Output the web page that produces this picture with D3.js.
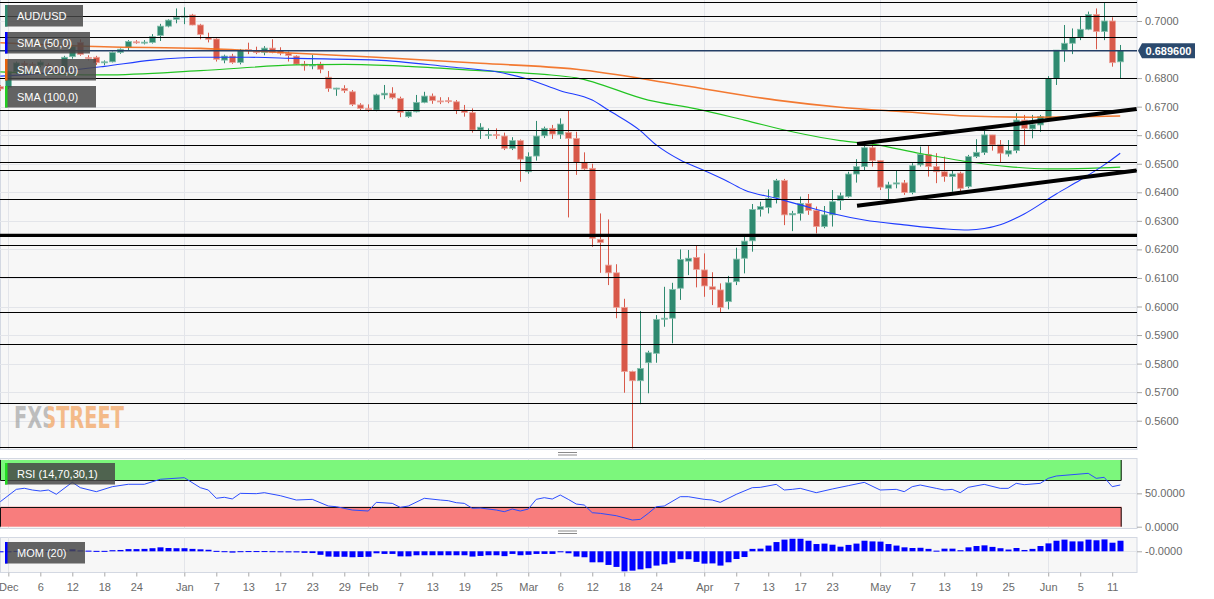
<!DOCTYPE html>
<html>
<head>
<meta charset="utf-8">
<title>AUD/USD daily</title>
<script src="https://cdnjs.cloudflare.com/ajax/libs/d3/7.8.5/d3.min.js"></script>
<style>
  html, body { margin: 0; padding: 0; background: #fff; }
  svg { display: block; font-family: 'Liberation Sans', Arial, sans-serif; }
</style>
</head>
<body>
<div id="chart"></div>
<script>
/* =====================================================
   AUD/USD daily candles, SMAs, RSI and momentum
   ===================================================== */

// Trading days run from 2019-11-29 to 2020-06-12 (weekdays), one value per day
const FIRST_DAY = '2019-11-29';
const LAST_DAY  = '2020-06-12';

const OPEN = [
  0.6770,0.6768,0.6822,0.6852,0.6849,0.6845,0.6846,0.6838,0.6822,0.6875,
  0.6925,0.6872,0.6873,0.6855,0.6857,0.6890,0.6908,0.6927,0.6924,0.6925,
  0.6949,0.6982,0.7006,0.7014,0.7021,0.6986,0.6942,0.6937,0.6863,0.6877,
  0.6855,0.6900,0.6893,0.6890,0.6905,0.6896,0.6887,0.6877,0.6849,0.6843,
  0.6849,0.6803,0.6762,0.6764,0.6752,0.6706,0.6693,0.6688,0.6741,0.6747,
  0.6729,0.6665,0.6682,0.6715,0.6737,0.6720,0.6721,0.6717,0.6688,0.6679,
  0.6618,0.6600,0.6602,0.6597,0.6554,0.6581,0.6472,0.6527,0.6598,0.6624,
  0.6603,0.6610,0.6589,0.6505,0.6484,0.6235,0.6145,0.6118,0.5997,0.5772,
  0.5740,0.5803,0.5836,0.5957,0.5959,0.6064,0.6159,0.6172,0.6128,0.6069,
  0.6058,0.6017,0.6087,0.6169,0.6230,0.6340,0.6347,0.6381,0.6441,0.6321,
  0.6326,0.6361,0.6336,0.6280,0.6321,0.6371,0.6385,0.6464,0.6490,0.6556,
  0.6511,0.6414,0.6429,0.6433,0.6399,0.6496,0.6533,0.6490,0.6472,0.6455,
  0.6467,0.6420,0.6525,0.6539,0.6601,0.6566,0.6534,0.6546,0.6653,0.6622,
  0.6636,0.6659,0.6799,0.6898,0.6922,0.6943,0.6971,0.7023,0.6963,0.7000,
  0.6857
];
const HIGH = [
  0.6775,0.6826,0.6858,0.6860,0.6856,0.6862,0.6852,0.6842,0.6878,0.6915,
  0.6936,0.6880,0.6878,0.6862,0.6893,0.6904,0.6933,0.6933,0.6933,0.6954,
  0.6990,0.7006,0.7044,0.7048,0.7025,0.6990,0.6959,0.6940,0.6882,0.6885,
  0.6902,0.6924,0.6910,0.6912,0.6936,0.6908,0.6893,0.6880,0.6860,0.6881,
  0.6857,0.6825,0.6766,0.6775,0.6758,0.6712,0.6708,0.6745,0.6776,0.6768,
  0.6735,0.6688,0.6741,0.6752,0.6746,0.6733,0.6733,0.6723,0.6706,0.6694,
  0.6642,0.6624,0.6624,0.6609,0.6593,0.6585,0.6540,0.6650,0.6630,0.6636,
  0.6659,0.6688,0.6612,0.6540,0.6500,0.6326,0.6305,0.6148,0.6027,0.5775,
  0.5984,0.5845,0.5970,0.6069,0.6083,0.6200,0.6198,0.6213,0.6186,0.6120,
  0.6081,0.6107,0.6206,0.6247,0.6359,0.6367,0.6410,0.6447,0.6447,0.6335,
  0.6385,0.6394,0.6350,0.6352,0.6408,0.6399,0.6472,0.6516,0.6572,0.6572,
  0.6513,0.6437,0.6476,0.6443,0.6502,0.6560,0.6562,0.6537,0.6525,0.6478,
  0.6472,0.6531,0.6586,0.6618,0.6601,0.6583,0.6583,0.6677,0.6671,0.6671,
  0.6671,0.6807,0.6898,0.6986,0.6974,0.7015,0.7033,0.7044,0.7064,0.7013,
  0.6916
];
const LOW = [
  0.6755,0.6762,0.6815,0.6840,0.6838,0.6838,0.6830,0.6815,0.6815,0.6868,
  0.6878,0.6862,0.6846,0.6845,0.6855,0.6885,0.6898,0.6920,0.6918,0.6921,
  0.6930,0.6978,0.6992,0.6989,0.6985,0.6936,0.6925,0.6858,0.6852,0.6850,
  0.6848,0.6884,0.6884,0.6880,0.6887,0.6880,0.6858,0.6846,0.6826,0.6831,
  0.6817,0.6752,0.6738,0.6748,0.6702,0.6688,0.6682,0.6684,0.6726,0.6726,
  0.6663,0.6661,0.6680,0.6712,0.6710,0.6709,0.6712,0.6674,0.6665,0.6609,
  0.6587,0.6587,0.6587,0.6548,0.6548,0.6437,0.6465,0.6511,0.6590,0.6587,
  0.6587,0.6312,0.6461,0.6476,0.6209,0.6118,0.6075,0.5959,0.5698,0.5503,
  0.5658,0.5696,0.5803,0.5929,0.5871,0.6023,0.6110,0.6067,0.6034,0.6005,
  0.5978,0.5990,0.6075,0.6116,0.6192,0.6315,0.6326,0.6361,0.6285,0.6264,
  0.6301,0.6321,0.6256,0.6274,0.6280,0.6338,0.6381,0.6434,0.6478,0.6490,
  0.6408,0.6375,0.6414,0.6391,0.6393,0.6490,0.6455,0.6432,0.6437,0.6402,
  0.6402,0.6414,0.6520,0.6531,0.6546,0.6505,0.6525,0.6537,0.6566,0.6589,
  0.6612,0.6656,0.6776,0.6857,0.6884,0.6933,0.6968,0.6901,0.6933,0.6840,
  0.6799
];
const CLOSE = [
  0.6762,0.6822,0.6853,0.6846,0.6845,0.6856,0.6838,0.6822,0.6873,0.6910,
  0.6883,0.6870,0.6854,0.6857,0.6890,0.6901,0.6928,0.6924,0.6926,0.6945,
  0.6982,0.7003,0.7013,0.7017,0.6986,0.6953,0.6936,0.6866,0.6877,0.6855,
  0.6898,0.6897,0.6890,0.6905,0.6890,0.6887,0.6879,0.6849,0.6843,0.6846,
  0.6831,0.6764,0.6765,0.6756,0.6708,0.6694,0.6691,0.6741,0.6747,0.6731,
  0.6680,0.6682,0.6715,0.6737,0.6721,0.6718,0.6718,0.6688,0.6680,0.6618,
  0.6628,0.6602,0.6600,0.6554,0.6581,0.6516,0.6525,0.6597,0.6624,0.6604,
  0.6639,0.6589,0.6505,0.6482,0.6239,0.6224,0.6118,0.5997,0.5772,0.5740,
  0.5783,0.5838,0.5955,0.5959,0.6060,0.6165,0.6169,0.6130,0.6072,0.6060,
  0.5997,0.6083,0.6166,0.6229,0.6340,0.6350,0.6379,0.6441,0.6321,0.6326,
  0.6361,0.6336,0.6280,0.6321,0.6367,0.6388,0.6464,0.6490,0.6556,0.6511,
  0.6418,0.6426,0.6433,0.6399,0.6493,0.6533,0.6490,0.6472,0.6455,0.6464,
  0.6414,0.6525,0.6540,0.6601,0.6566,0.6537,0.6546,0.6653,0.6624,0.6638,
  0.6665,0.6799,0.6898,0.6922,0.6942,0.6971,0.7023,0.6963,0.7000,0.6854,
  0.6896
];

// Momentum (20), one bar per day
const MOM = [
  -0.004,-0.002,0.002,0.001,0.001,0.002,0.001,-0.001,0.004,0.009,
  0.004,0.003,0.002,0.002,0.005,0.006,0.010,0.010,0.011,0.014,
  0.018,0.015,0.014,0.014,0.011,0.009,0.007,0.002,0.0005,-0.006,
  0.0005,0.001,0.001,0.001,0.0005,-0.003,-0.005,-0.005,-0.007,-0.008,
  -0.016,-0.024,-0.025,-0.025,-0.027,-0.026,-0.025,-0.009,-0.012,-0.012,
  -0.023,-0.023,-0.018,-0.018,-0.018,-0.018,-0.018,-0.018,-0.018,-0.024,
  -0.021,-0.018,-0.018,-0.022,-0.012,-0.018,-0.016,-0.012,-0.012,-0.012,
  -0.003,-0.009,-0.024,-0.027,-0.050,-0.050,-0.062,-0.071,-0.091,-0.088,
  -0.082,-0.077,-0.065,-0.059,-0.052,-0.036,-0.036,-0.048,-0.056,-0.055,
  -0.065,-0.050,-0.035,-0.026,0.011,0.012,0.026,0.042,0.053,0.057,
  0.057,0.048,0.033,0.035,0.030,0.021,0.029,0.035,0.048,0.045,
  0.044,0.033,0.026,0.018,0.015,0.016,0.011,0.003,0.012,0.012,
  0.005,0.018,0.024,0.027,0.020,0.014,0.008,0.015,0.006,0.011,
  0.024,0.036,0.048,0.053,0.045,0.045,0.053,0.050,0.054,0.039,
  0.048
];

// Moving averages read at sample days (day number counted from FIRST_DAY)
const SMA50_DAYS  = [0,4,13,19,25,31,37,47,56,62,66,70,74,76,80,82,85,88,91,93,97,100,104,108,113,118,121,125,128,132,135,138,140];
const SMA50       = [0.6807,0.6814,0.6841,0.6863,0.6873,0.6873,0.6869,0.6863,0.6840,0.6822,0.6796,0.6756,0.6723,0.6688,0.6616,0.6566,0.6513,0.6476,0.6437,0.6408,0.6379,0.6356,0.6326,0.6303,0.6286,0.6272,0.6268,0.6286,0.6324,0.6394,0.6443,0.6496,0.6537];
const SMA200_DAYS = [0,13,25,37,47,60,72,85,97,105,113,121,129,140];
const SMA200      = [0.6924,0.6910,0.6904,0.6887,0.6873,0.6852,0.6831,0.6776,0.6723,0.6698,0.6682,0.6667,0.6663,0.6667];
const SMA100_DAYS = [0,13,25,37,43,51,60,68,72,81,87,93,99,105,109,115,121,126,131,136,140];
const SMA100      = [0.6822,0.6811,0.6826,0.6846,0.6848,0.6841,0.6826,0.6813,0.6801,0.6723,0.6692,0.6653,0.6612,0.6581,0.6569,0.6536,0.6507,0.6490,0.6482,0.6484,0.6488];

// RSI (14) read at sample days
const RSI_DAYS = [0,2,3,4,5,6,7,9,10,12,14,16,18,20,23,25,26,27,28,29,30,32,33,35,37,39,41,42,44,46,47,49,50,51,53,55,56,57,58,59,60,62,63,64,65,66,67,68,69,70,71,72,73,74,75,77,79,80,81,82,83,85,86,88,89,90,92,94,95,97,98,99,100,102,104,106,108,110,112,113,114,115,117,118,119,120,121,123,125,126,127,128,130,131,132,136,137,138,139,140];
const RSI      = [37.5,56,57.6,55,53.5,55,48.6,66.6,58.5,52.5,60,63.6,63.6,71.1,73.5,58.5,55,42.6,44.1,41.6,50,49.5,51,46.5,40,41,31,30,25,23.5,36.5,35,29,31,42.6,40,39,36,35,27.6,28,25,22.5,26.5,23.5,26.5,41,43.5,41.5,47.5,41,34,32.5,21,20,16.5,10,11,20,30,31,45,45,41,40,36.5,48.5,58.5,59,63.5,55,56,57.5,51,56.5,61.5,66.5,55,56,52.5,60,62.5,57.5,55,56,51,59,63.5,57.5,57.5,65,63,65,72.5,76,80,72.5,74,60,62.5];

// Drawn support / resistance levels and trend channel
const LEVELS      = [0.7067,0.7017,0.6943,0.6800,0.6687,0.6617,0.6565,0.6505,0.6477,0.6376,0.6214,0.6102,0.5981,0.5868,0.5661,0.5507];
const KEY_LEVEL   = 0.6249;
const TREND_DAYS  = [107.1, 142.05];
const TREND_UPPER = [0.6569, 0.6692];
const TREND_LOWER = [0.6353, 0.6476];
const LAST_PRICE  = 0.6896;

// Axis ticks (0.69 sits under the price tag and has no label)
const PRICE_GRID  = [0.56,0.57,0.58,0.59,0.60,0.61,0.62,0.63,0.64,0.65,0.66,0.67,0.68,0.69,0.70];
const PRICE_TICKS = [0.56,0.57,0.58,0.59,0.60,0.61,0.62,0.63,0.64,0.65,0.66,0.67,0.68,0.70];
const TICK_DATES  = ['2019-12-02','2019-12-06','2019-12-12','2019-12-18','2019-12-24','2020-01-01','2020-01-07','2020-01-13','2020-01-17','2020-01-23','2020-01-29','2020-02-03','2020-02-07','2020-02-13','2020-02-19','2020-02-25','2020-03-02','2020-03-06','2020-03-12','2020-03-18','2020-03-24','2020-04-01','2020-04-07','2020-04-13','2020-04-17','2020-04-23','2020-05-01','2020-05-07','2020-05-13','2020-05-19','2020-05-25','2020-06-01','2020-06-05','2020-06-11'];
const TICK_LABELS = ['Dec','6','12','18','24','Jan','7','13','17','23','29','Feb','7','13','19','25','Mar','6','12','18','24','Apr','7','13','17','23','May','7','13','19','25','Jun','5','11'];

(function () {
  'use strict';

  const W = 1214;
  const H = 599;
  const PLOT_R = 1137;
  const MAIN = { top: 0, bottom: 449 };
  const RSI_BOX = { top: 458.5, bottom: 528.5 };
  const MOM_BOX = { top: 537.5, bottom: 572.5 };

  const UP   = { fill: '#2f8a70', edge: '#86c0ae' };
  const DOWN = { fill: '#d8594a', edge: '#eba49b' };
  const GRID = '#e3e5ea';
  const FONT = "'Liberation Sans', Arial, sans-serif";

  const parse = d3.timeParse('%Y-%m-%d');
  const fmt = d3.timeFormat('%Y-%m-%d');
  const DAYS = d3.timeDay.range(parse(FIRST_DAY), d3.timeDay.offset(parse(LAST_DAY), 1))
    .filter(d => d.getDay() !== 0 && d.getDay() !== 6);
  const dayIndex = new Map(DAYS.map((d, k) => [fmt(d), k]));
  const tickDays = TICK_DATES.map(s => dayIndex.get(s));
  const monthDays = tickDays.filter((_, i) => isNaN(+TICK_LABELS[i]));

  const svg = d3.select('#chart').append('svg')
    .attr('width', W)
    .attr('height', H);

  const x    = d3.scaleLinear().domain([-0.04, 142.1]).range([0, PLOT_R]);
  const y    = d3.scaleLinear().domain([0.550088, 0.707356]).range([MAIN.bottom, MAIN.top]);
  const yRsi = d3.scaleLinear().domain([0, 100]).range([526.7, 460]);
  const yMom = d3.scaleLinear().domain([-0.0968, 0.0636]).range([572.6, 537.3]);
  const px   = v => Math.round(v) + 0.5;

  const defs = svg.append('defs');
  defs.append('clipPath').attr('id', 'plot-clip')
    .append('rect').attr('x', 0).attr('y', 0).attr('width', PLOT_R).attr('height', MAIN.bottom);

  // Watermark colouring: grey "FX", orange "STREET"
  const wm = defs.append('linearGradient')
    .attr('id', 'wm-fill')
    .attr('gradientUnits', 'userSpaceOnUse')
    .attr('x1', 14).attr('x2', 124).attr('y1', 0).attr('y2', 0);
  [[0, 'rgba(150,150,150,0.6)'], [0.31, 'rgba(150,150,150,0.6)'],
   [0.31, 'rgba(242,160,90,0.7)'], [1, 'rgba(242,160,90,0.7)']].forEach(([o, c]) => {
    wm.append('stop').attr('offset', o).attr('stop-color', c);
  });

  // Panel backgrounds
  [[-1, MAIN.bottom + 0.5], [RSI_BOX.top, RSI_BOX.bottom], [MOM_BOX.top, MOM_BOX.bottom]].forEach(([t, b]) => {
    svg.append('rect')
      .attr('x', 0.5).attr('y', t)
      .attr('width', PLOT_R - 0.5).attr('height', b - t)
      .attr('fill', '#f7f7f7')
      .attr('stroke', '#d3d8e2');
  });

  // Grid
  const grid = svg.append('g').attr('stroke', GRID).attr('stroke-width', 1);
  grid.selectAll('line.h').data(PRICE_GRID).join('line')
    .attr('x1', 0).attr('x2', PLOT_R)
    .attr('y1', d => px(y(d))).attr('y2', d => px(y(d)));
  [[MAIN.top, MAIN.bottom], [RSI_BOX.top, RSI_BOX.bottom], [MOM_BOX.top, MOM_BOX.bottom]].forEach(([t, b]) => {
    grid.append('g').selectAll('line').data(monthDays).join('line')
      .attr('x1', d => px(x(d))).attr('x2', d => px(x(d)))
      .attr('y1', t).attr('y2', b);
  });
  grid.append('line').attr('x1', 0).attr('x2', PLOT_R).attr('y1', px(yRsi(50))).attr('y2', px(yRsi(50)));
  grid.append('line').attr('x1', 0).attr('x2', PLOT_R).attr('y1', px(yMom(0))).attr('y2', px(yMom(0)));

  // Watermark
  svg.append('text')
    .attr('x', 14).attr('y', 428)
    .attr('font-family', "'DejaVu Sans Condensed', 'Liberation Sans Narrow', 'DejaVu Sans', sans-serif")
    .attr('font-weight', 'bold')
    .attr('font-size', 31)
    .attr('textLength', 110)
    .attr('lengthAdjust', 'spacingAndGlyphs')
    .attr('fill', 'url(#wm-fill)')
    .text('FXSTREET');

  const plot = svg.append('g').attr('clip-path', 'url(#plot-clip)');

  // Candles
  const candles = DAYS.map((d, k) => ({ k, o: OPEN[k], h: HIGH[k], l: LOW[k], c: CLOSE[k] }));
  const style = d => (d.c >= d.o ? UP : DOWN);
  const cg = plot.append('g').selectAll('g.candle').data(candles).join('g').attr('class', 'candle');
  cg.append('line')
    .attr('x1', d => px(x(d.k))).attr('x2', d => px(x(d.k)))
    .attr('y1', d => y(d.h)).attr('y2', d => y(d.l))
    .attr('stroke', d => style(d).fill)
    .attr('stroke-width', 1);
  cg.append('rect')
    .attr('x', d => Math.round(x(d.k)) - 2.5)
    .attr('width', 6)
    .attr('y', d => y(Math.max(d.o, d.c)))
    .attr('height', d => Math.max(1, Math.abs(y(d.o) - y(d.c))))
    .attr('fill', d => style(d).fill)
    .attr('stroke', d => style(d).edge)
    .attr('stroke-width', 0.8);

  // Moving averages
  const smaLine = d3.line().x(d => x(d[0])).y(d => y(d[1])).curve(d3.curveMonotoneX);
  [
    { days: SMA200_DAYS, vals: SMA200, color: '#f26a1b', width: 1.6, op: 0.9 },
    { days: SMA100_DAYS, vals: SMA100, color: '#22c422', width: 1.2, op: 1 },
    { days: SMA50_DAYS,  vals: SMA50,  color: '#1f3cff', width: 1.1, op: 1 },
  ].forEach(s => {
    plot.append('path')
      .datum(s.days.map((d, i) => [d, s.vals[i]]))
      .attr('fill', 'none')
      .attr('stroke', s.color)
      .attr('stroke-width', s.width)
      .attr('stroke-opacity', s.op)
      .attr('d', smaLine);
  });

  // Levels and channel
  plot.append('g').selectAll('line').data(LEVELS).join('line')
    .attr('x1', 0).attr('x2', PLOT_R)
    .attr('y1', d => px(y(d))).attr('y2', d => px(y(d)))
    .attr('stroke', '#000').attr('stroke-width', 1.2);
  plot.append('line')
    .attr('x1', 0).attr('x2', PLOT_R)
    .attr('y1', y(KEY_LEVEL)).attr('y2', y(KEY_LEVEL))
    .attr('stroke', '#000').attr('stroke-width', 3.2);
  [TREND_UPPER, TREND_LOWER].forEach(tl => {
    plot.append('line')
      .attr('x1', x(TREND_DAYS[0])).attr('y1', y(tl[0]))
      .attr('x2', x(TREND_DAYS[1])).attr('y2', y(tl[1]))
      .attr('stroke', '#000').attr('stroke-width', 4);
  });
  plot.append('line')
    .attr('x1', 0).attr('x2', PLOT_R)
    .attr('y1', y(LAST_PRICE)).attr('y2', y(LAST_PRICE))
    .attr('stroke', '#243f66').attr('stroke-width', 1.6);

  // RSI panel
  const lastX = x(DAYS.length - 1) + 1;
  const rsiG = svg.append('g');
  rsiG.append('rect')
    .attr('x', 0.5).attr('y', yRsi(100))
    .attr('width', lastX).attr('height', yRsi(70) - yRsi(100))
    .attr('fill', '#7cf77c');
  rsiG.append('rect')
    .attr('x', 0.5).attr('y', yRsi(30))
    .attr('width', lastX).attr('height', yRsi(0) - yRsi(30))
    .attr('fill', '#f87d7d');
  rsiG.append('path')
    .attr('d', `M0.5,${yRsi(100)}V${px(yRsi(70))}H${lastX}V${yRsi(100)}`
      + `M0.5,${yRsi(0)}V${px(yRsi(30))}H${lastX}V${yRsi(0)}`)
    .attr('fill', 'none').attr('stroke', '#111').attr('stroke-width', 1);
  rsiG.append('path')
    .datum(RSI_DAYS.map((d, i) => [d, RSI[i]]))
    .attr('fill', 'none')
    .attr('stroke', '#2b4cff')
    .attr('stroke-width', 1)
    .attr('d', d3.line().x(d => x(d[0])).y(d => yRsi(d[1])));

  // Momentum bars
  svg.append('g').selectAll('rect').data(MOM).join('rect')
    .attr('x', (_, k) => Math.round(x(k)) - 2.5)
    .attr('width', 6)
    .attr('y', d => Math.min(yMom(d), yMom(0)))
    .attr('height', d => Math.max(1, Math.abs(yMom(d) - yMom(0))))
    .attr('fill', '#0000ff');

  // Axes
  function axisStyle(g) {
    g.attr('font-size', 11).attr('font-family', FONT);
    g.select('.domain').remove();
    g.selectAll('.tick line').attr('stroke', '#a9a9a9');
    g.selectAll('.tick text').attr('fill', '#6a6a6a');
  }
  svg.append('g')
    .attr('transform', `translate(${PLOT_R},0)`)
    .call(d3.axisRight(y).tickValues(PRICE_TICKS).tickFormat(d3.format('.4f')).tickSize(5).tickPadding(3))
    .call(axisStyle);
  svg.append('g')
    .attr('transform', `translate(${PLOT_R},0)`)
    .call(d3.axisRight(yRsi).tickValues([0, 50]).tickFormat(d3.format('.4f')).tickSize(5).tickPadding(3))
    .call(axisStyle);
  svg.append('g')
    .attr('transform', `translate(${PLOT_R},0)`)
    .call(d3.axisRight(yMom).tickValues([0]).tickFormat(() => '-0.0000').tickSize(5).tickPadding(3))
    .call(axisStyle);
  svg.append('g')
    .attr('transform', `translate(0,${MOM_BOX.bottom})`)
    .call(d3.axisBottom(x).tickValues(tickDays).tickFormat((_, i) => TICK_LABELS[i]).tickSize(4).tickPadding(7))
    .call(axisStyle);

  // Current price tag
  const yp = y(LAST_PRICE);
  svg.append('path')
    .attr('d', `M${PLOT_R + 1},${yp}L${PLOT_R + 5},${yp - 7.5}H${PLOT_R + 58}V${yp + 7.5}H${PLOT_R + 5}Z`)
    .attr('fill', '#2b4a6e');
  svg.append('text')
    .attr('x', PLOT_R + 31.5).attr('y', yp)
    .attr('text-anchor', 'middle')
    .attr('dominant-baseline', 'central')
    .attr('fill', '#fff')
    .attr('font-size', 11)
    .attr('font-weight', 'bold')
    .text(d3.format('.6f')(LAST_PRICE));

  // Legend tags
  const tags = [
    { label: 'AUD/USD',          color: UP.fill,   top: 5,   w: 78 },
    { label: 'SMA (50,0)',       color: '#0000ff', top: 32,  w: 85 },
    { label: 'SMA (200,0)',      color: '#e8640c', top: 59,  w: 91 },
    { label: 'SMA (100,0)',      color: '#22cc22', top: 86,  w: 91 },
    { label: 'RSI (14,70,30,1)', color: '#22dd22', top: 463, w: 110 },
    { label: 'MOM (20)',         color: '#0000ff', top: 542, w: 80 },
  ];
  const tg = svg.append('g').selectAll('g').data(tags).join('g')
    .attr('transform', d => `translate(5,${d.top})`);
  tg.append('rect')
    .attr('width', d => d.w).attr('height', 21.5)
    .attr('fill', 'rgba(70,70,70,0.84)');
  tg.append('rect')
    .attr('width', 2.5).attr('height', 21.5)
    .attr('fill', d => d.color);
  tg.append('text')
    .attr('x', 12).attr('y', 11)
    .attr('dominant-baseline', 'central')
    .attr('fill', '#fff')
    .attr('font-size', 11)
    .text(d => d.label);

  // Pane grippers
  [MAIN.bottom + 3.5, RSI_BOX.bottom + 2.5].forEach(t => {
    svg.append('path')
      .attr('d', `M558,${t}H577M558,${t + 2.5}H577`)
      .attr('stroke', '#8a8a8a').attr('stroke-width', 1);
  });
})();
</script>
</body>
</html>
